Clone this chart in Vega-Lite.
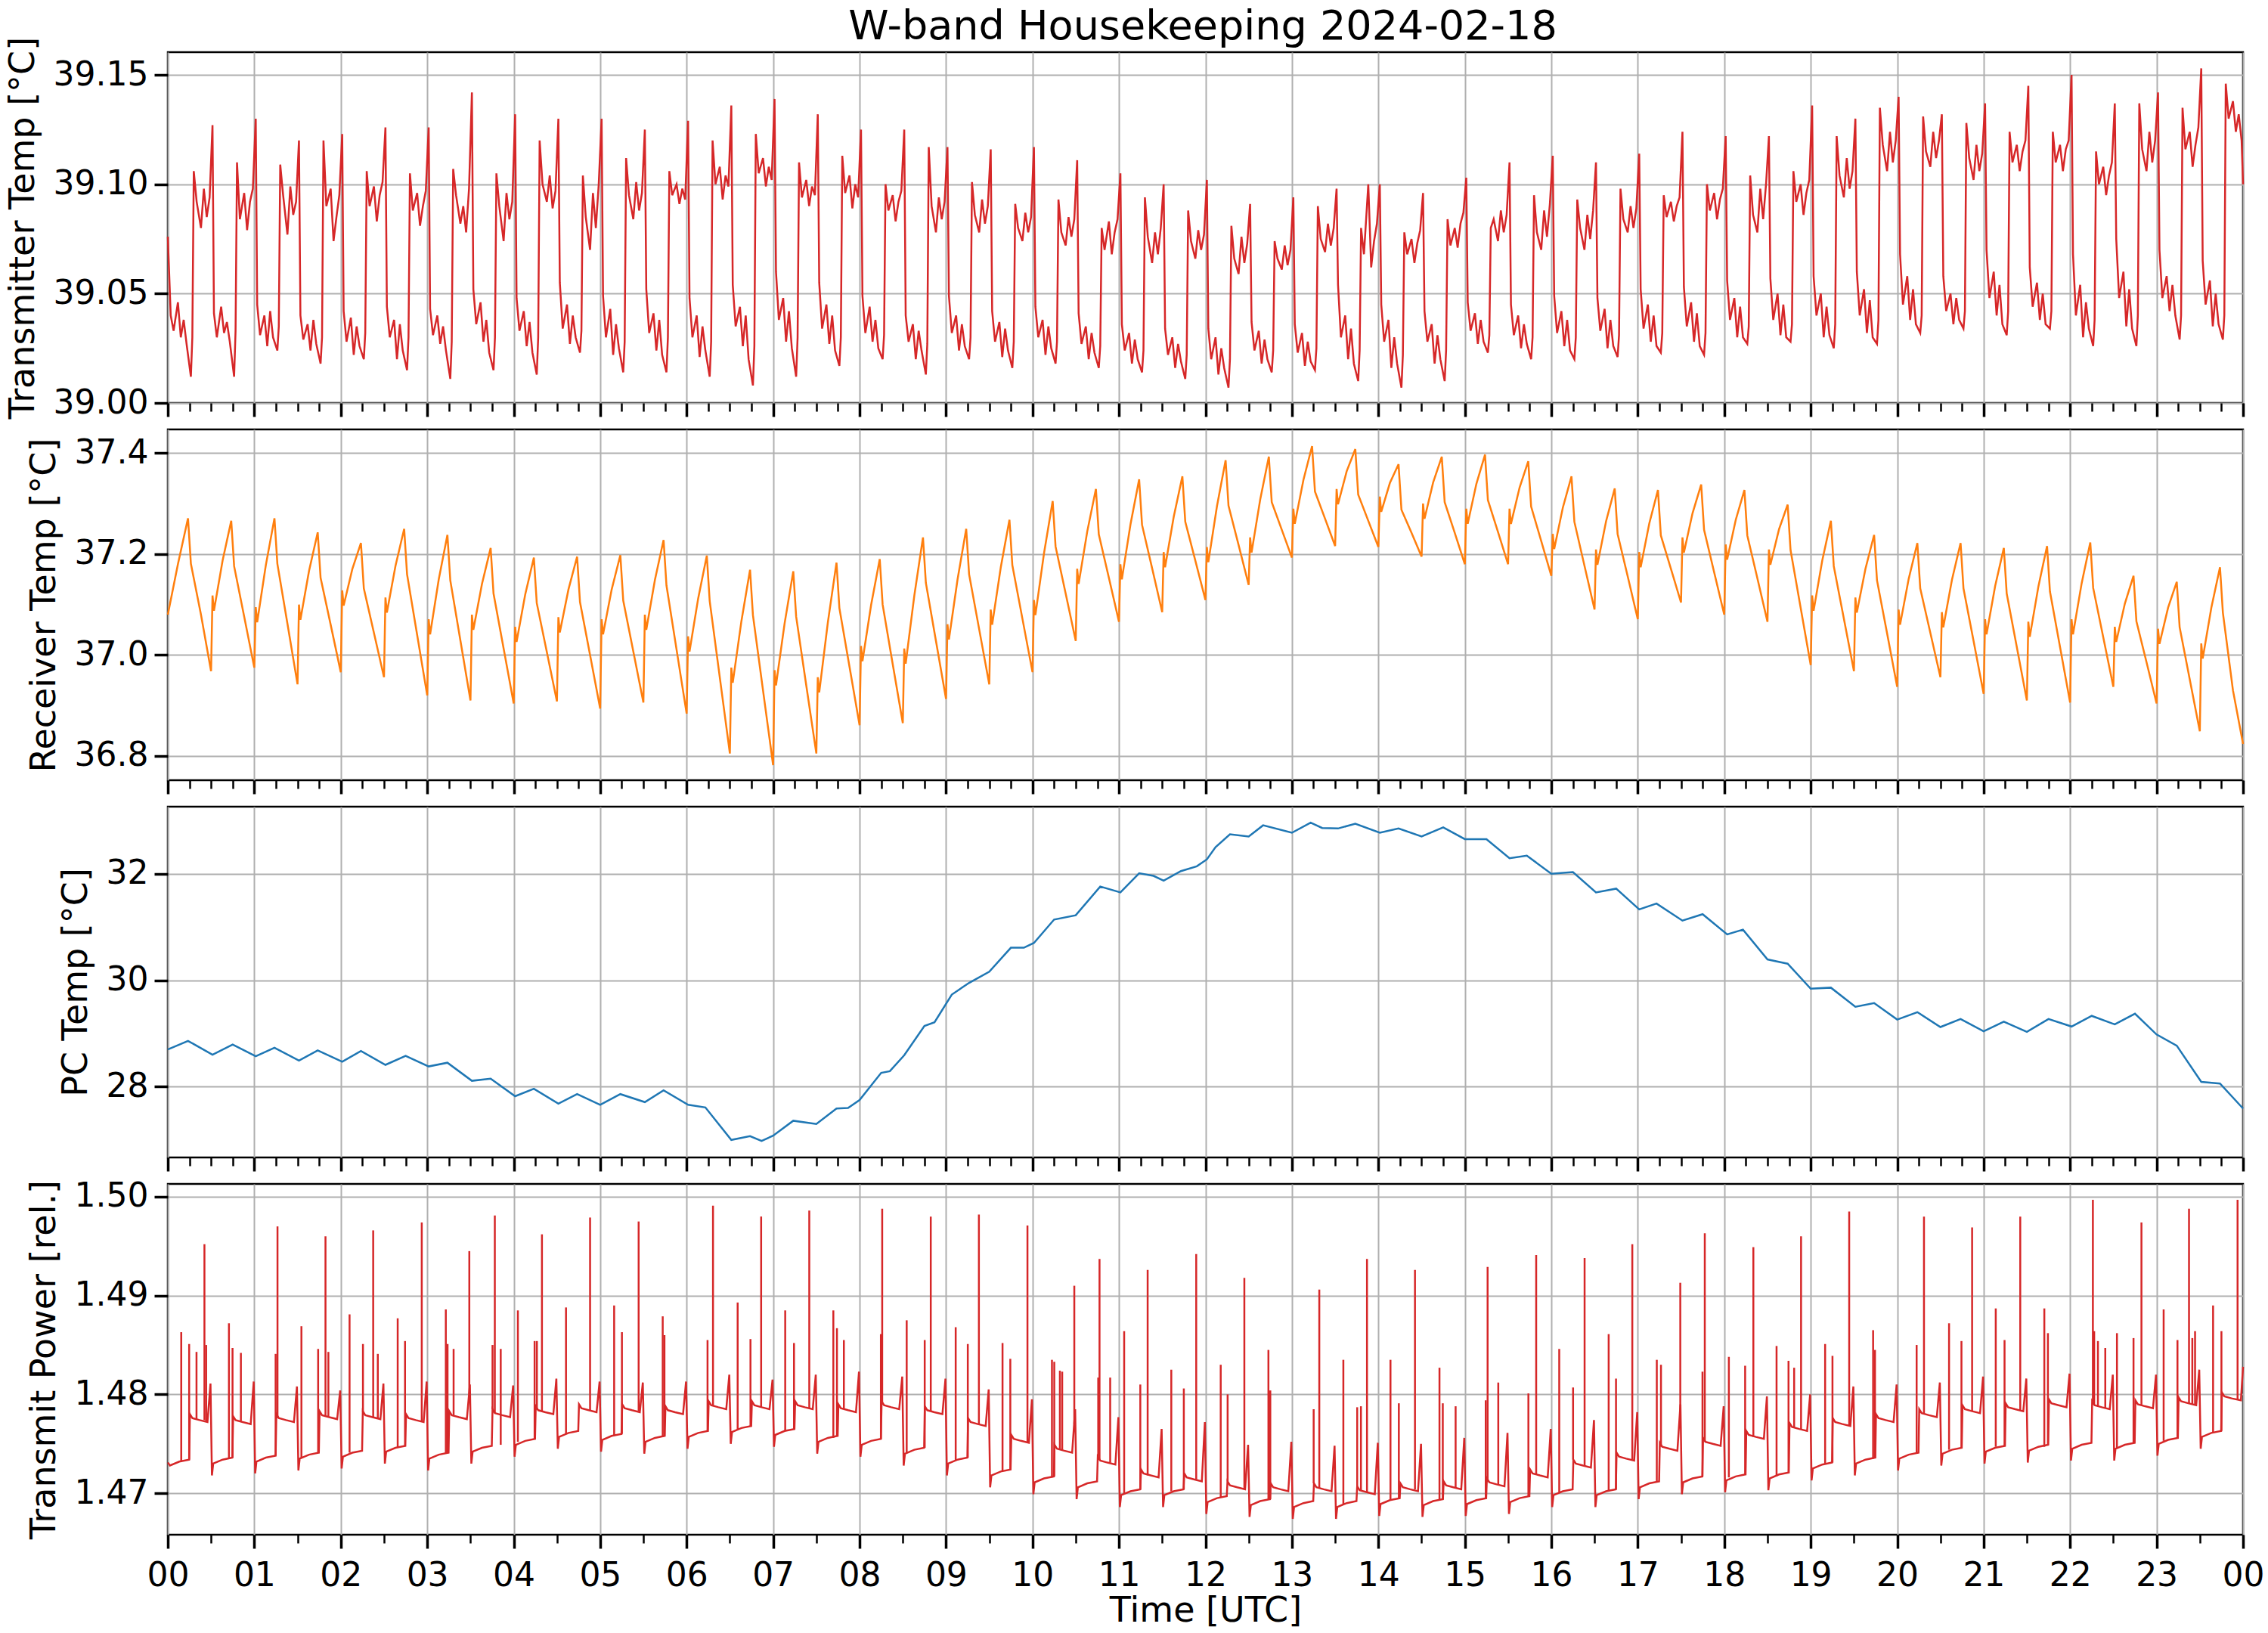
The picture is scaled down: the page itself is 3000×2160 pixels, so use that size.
{
  "$schema": "https://vega.github.io/schema/vega-lite/v6.json",
  "background": "white",
  "padding": {"left": 5, "top": 9, "right": 22, "bottom": 2},
  "title": {"text": "W-band Housekeeping 2024-02-18", "fontSize": 54, "font": "DejaVu Sans", "fontWeight": "normal", "color": "black", "anchor": "middle", "offset": -16, "dx": 90},
  "spacing": 35,
  "bounds": "flush",
  "config": {
    "font": "DejaVu Sans",
    "view": {"stroke": "black", "strokeWidth": 2.5},
    "axis": {"labelFont": "DejaVu Sans", "titleFont": "DejaVu Sans", "labelFontSize": 44, "titleFontSize": 46, "titleFontWeight": "normal", "labelColor": "black", "titleColor": "black", "gridColor": "#b0b0b0", "gridWidth": 2, "tickColor": "black", "domain": false, "labelPadding": 8},
    "axisY": {"tickSize": 18, "tickWidth": 3.5, "titlePadding": 16}
  },
  "datasets": {
    "tx": [
      {"t":0,"v":39.076},
      {"t":2,"v":39.040},{"t":4,"v":39.033},{"t":7,"v":39.046},{"t":9,"v":39.030},{"t":11,"v":39.038},{"t":13,"v":39.027},{"t":16,"v":39.012},{"t":17,"v":39.030},{"t":18,"v":39.106},{"t":20,"v":39.092},{"t":23,"v":39.080},{"t":25,"v":39.098},{"t":27,"v":39.085},{"t":29,"v":39.094},{"t":31,"v":39.127},
      {"t":32,"v":39.041},{"t":34,"v":39.030},{"t":37,"v":39.044},{"t":39,"v":39.032},{"t":41,"v":39.037},{"t":43,"v":39.028},{"t":46,"v":39.012},{"t":47,"v":39.033},{"t":48,"v":39.110},{"t":50,"v":39.084},{"t":53,"v":39.096},{"t":55,"v":39.079},{"t":57,"v":39.092},{"t":59,"v":39.098},{"t":61,"v":39.130},
      {"t":62,"v":39.045},{"t":64,"v":39.031},{"t":67,"v":39.040},{"t":69,"v":39.026},{"t":71,"v":39.042},{"t":73,"v":39.030},{"t":76,"v":39.024},{"t":77,"v":39.035},{"t":78,"v":39.109},{"t":80,"v":39.095},{"t":83,"v":39.077},{"t":85,"v":39.099},{"t":87,"v":39.086},{"t":89,"v":39.092},{"t":91,"v":39.120},
      {"t":92,"v":39.040},{"t":94,"v":39.029},{"t":97,"v":39.036},{"t":99,"v":39.024},{"t":101,"v":39.038},{"t":103,"v":39.027},{"t":106,"v":39.018},{"t":107,"v":39.030},{"t":108,"v":39.120},{"t":110,"v":39.090},{"t":113,"v":39.098},{"t":115,"v":39.074},{"t":117,"v":39.085},{"t":119,"v":39.095},{"t":121,"v":39.123},
      {"t":122,"v":39.042},{"t":124,"v":39.028},{"t":127,"v":39.039},{"t":129,"v":39.022},{"t":131,"v":39.035},{"t":133,"v":39.026},{"t":136,"v":39.020},{"t":137,"v":39.032},{"t":138,"v":39.106},{"t":140,"v":39.090},{"t":143,"v":39.099},{"t":145,"v":39.083},{"t":147,"v":39.095},{"t":149,"v":39.101},{"t":151,"v":39.126},
      {"t":152,"v":39.044},{"t":154,"v":39.030},{"t":157,"v":39.038},{"t":159,"v":39.020},{"t":161,"v":39.036},{"t":163,"v":39.024},{"t":166,"v":39.015},{"t":167,"v":39.030},{"t":168,"v":39.105},{"t":170,"v":39.088},{"t":173,"v":39.096},{"t":175,"v":39.081},{"t":177,"v":39.090},{"t":179,"v":39.097},{"t":181,"v":39.126},
      {"t":182,"v":39.043},{"t":184,"v":39.031},{"t":187,"v":39.040},{"t":189,"v":39.027},{"t":191,"v":39.035},{"t":193,"v":39.024},{"t":196,"v":39.011},{"t":197,"v":39.028},{"t":198,"v":39.107},{"t":200,"v":39.095},{"t":203,"v":39.082},{"t":205,"v":39.090},{"t":207,"v":39.078},{"t":209,"v":39.098},{"t":211,"v":39.142},
      {"t":212,"v":39.052},{"t":214,"v":39.036},{"t":217,"v":39.046},{"t":219,"v":39.028},{"t":221,"v":39.038},{"t":223,"v":39.023},{"t":226,"v":39.015},{"t":227,"v":39.030},{"t":228,"v":39.105},{"t":230,"v":39.090},{"t":233,"v":39.074},{"t":235,"v":39.096},{"t":237,"v":39.084},{"t":239,"v":39.092},{"t":241,"v":39.132},
      {"t":242,"v":39.048},{"t":244,"v":39.033},{"t":247,"v":39.042},{"t":249,"v":39.026},{"t":251,"v":39.037},{"t":253,"v":39.023},{"t":256,"v":39.013},{"t":257,"v":39.030},{"t":258,"v":39.120},{"t":260,"v":39.100},{"t":263,"v":39.092},{"t":265,"v":39.104},{"t":267,"v":39.089},{"t":269,"v":39.097},{"t":271,"v":39.130},
      {"t":272,"v":39.055},{"t":274,"v":39.034},{"t":277,"v":39.045},{"t":279,"v":39.027},{"t":281,"v":39.040},{"t":283,"v":39.030},{"t":286,"v":39.023},{"t":287,"v":39.033},{"t":288,"v":39.104},{"t":290,"v":39.085},{"t":293,"v":39.070},{"t":295,"v":39.096},{"t":297,"v":39.080},{"t":299,"v":39.100},{"t":301,"v":39.130},
      {"t":302,"v":39.049},{"t":304,"v":39.030},{"t":307,"v":39.043},{"t":309,"v":39.022},{"t":311,"v":39.036},{"t":313,"v":39.025},{"t":316,"v":39.014},{"t":317,"v":39.028},{"t":318,"v":39.112},{"t":320,"v":39.095},{"t":323,"v":39.084},{"t":325,"v":39.101},{"t":327,"v":39.088},{"t":329,"v":39.096},{"t":331,"v":39.125},
      {"t":332,"v":39.052},{"t":334,"v":39.032},{"t":337,"v":39.041},{"t":339,"v":39.024},{"t":341,"v":39.038},{"t":343,"v":39.022},{"t":346,"v":39.014},{"t":347,"v":39.030},{"t":348,"v":39.106},{"t":350,"v":39.095},{"t":353,"v":39.100},{"t":355,"v":39.091},{"t":357,"v":39.098},{"t":359,"v":39.093},{"t":361,"v":39.129},
      {"t":362,"v":39.048},{"t":364,"v":39.030},{"t":367,"v":39.040},{"t":369,"v":39.021},{"t":371,"v":39.035},{"t":373,"v":39.024},{"t":376,"v":39.012},{"t":377,"v":39.028},{"t":378,"v":39.120},{"t":380,"v":39.100},{"t":383,"v":39.108},{"t":385,"v":39.093},{"t":387,"v":39.104},{"t":389,"v":39.099},{"t":391,"v":39.136},
      {"t":392,"v":39.054},{"t":394,"v":39.035},{"t":397,"v":39.044},{"t":399,"v":39.026},{"t":401,"v":39.040},{"t":403,"v":39.020},{"t":406,"v":39.008},{"t":407,"v":39.026},{"t":408,"v":39.123},{"t":410,"v":39.105},{"t":413,"v":39.112},{"t":415,"v":39.099},{"t":417,"v":39.108},{"t":419,"v":39.102},{"t":421,"v":39.139},
      {"t":422,"v":39.060},{"t":424,"v":39.038},{"t":427,"v":39.048},{"t":429,"v":39.028},{"t":431,"v":39.042},{"t":433,"v":39.025},{"t":436,"v":39.012},{"t":437,"v":39.030},{"t":438,"v":39.110},{"t":440,"v":39.094},{"t":443,"v":39.102},{"t":445,"v":39.090},{"t":447,"v":39.099},{"t":449,"v":39.095},{"t":451,"v":39.132},
      {"t":452,"v":39.055},{"t":454,"v":39.034},{"t":457,"v":39.045},{"t":459,"v":39.027},{"t":461,"v":39.040},{"t":463,"v":39.024},{"t":466,"v":39.017},{"t":467,"v":39.030},{"t":468,"v":39.113},{"t":470,"v":39.096},{"t":473,"v":39.104},{"t":475,"v":39.089},{"t":477,"v":39.100},{"t":479,"v":39.094},{"t":481,"v":39.125},
      {"t":482,"v":39.049},{"t":484,"v":39.032},{"t":487,"v":39.044},{"t":489,"v":39.028},{"t":491,"v":39.038},{"t":493,"v":39.025},{"t":496,"v":39.020},{"t":497,"v":39.031},{"t":498,"v":39.100},{"t":500,"v":39.088},{"t":503,"v":39.095},{"t":505,"v":39.083},{"t":507,"v":39.092},{"t":509,"v":39.097},{"t":511,"v":39.125},
      {"t":512,"v":39.040},{"t":514,"v":39.028},{"t":517,"v":39.036},{"t":519,"v":39.020},{"t":521,"v":39.033},{"t":523,"v":39.024},{"t":526,"v":39.013},{"t":527,"v":39.027},{"t":528,"v":39.117},{"t":530,"v":39.090},{"t":533,"v":39.078},{"t":535,"v":39.094},{"t":537,"v":39.084},{"t":539,"v":39.092},{"t":541,"v":39.117},
      {"t":542,"v":39.049},{"t":544,"v":39.032},{"t":547,"v":39.040},{"t":549,"v":39.024},{"t":551,"v":39.036},{"t":553,"v":39.026},{"t":556,"v":39.020},{"t":557,"v":39.030},{"t":558,"v":39.101},{"t":560,"v":39.086},{"t":563,"v":39.078},{"t":565,"v":39.093},{"t":567,"v":39.082},{"t":569,"v":39.090},{"t":571,"v":39.116},
      {"t":572,"v":39.042},{"t":574,"v":39.028},{"t":577,"v":39.037},{"t":579,"v":39.021},{"t":581,"v":39.034},{"t":583,"v":39.024},{"t":586,"v":39.016},{"t":587,"v":39.028},{"t":588,"v":39.091},{"t":590,"v":39.080},{"t":593,"v":39.074},{"t":595,"v":39.087},{"t":597,"v":39.078},{"t":599,"v":39.085},{"t":601,"v":39.117},
      {"t":602,"v":39.044},{"t":604,"v":39.030},{"t":607,"v":39.038},{"t":609,"v":39.022},{"t":611,"v":39.035},{"t":613,"v":39.025},{"t":616,"v":39.018},{"t":617,"v":39.028},{"t":618,"v":39.093},{"t":620,"v":39.078},{"t":623,"v":39.072},{"t":625,"v":39.085},{"t":627,"v":39.076},{"t":629,"v":39.084},{"t":631,"v":39.111},
      {"t":632,"v":39.041},{"t":634,"v":39.027},{"t":637,"v":39.035},{"t":639,"v":39.020},{"t":641,"v":39.032},{"t":643,"v":39.023},{"t":646,"v":39.016},{"t":647,"v":39.026},{"t":648,"v":39.080},{"t":650,"v":39.070},{"t":653,"v":39.083},{"t":655,"v":39.068},{"t":657,"v":39.078},{"t":659,"v":39.084},{"t":661,"v":39.105},
      {"t":662,"v":39.036},{"t":664,"v":39.024},{"t":667,"v":39.032},{"t":669,"v":39.018},{"t":671,"v":39.029},{"t":673,"v":39.020},{"t":676,"v":39.014},{"t":677,"v":39.024},{"t":678,"v":39.094},{"t":680,"v":39.076},{"t":683,"v":39.064},{"t":685,"v":39.078},{"t":687,"v":39.068},{"t":689,"v":39.080},{"t":691,"v":39.100},
      {"t":692,"v":39.034},{"t":694,"v":39.022},{"t":697,"v":39.030},{"t":699,"v":39.016},{"t":701,"v":39.027},{"t":703,"v":39.019},{"t":706,"v":39.011},{"t":707,"v":39.022},{"t":708,"v":39.088},{"t":710,"v":39.074},{"t":713,"v":39.066},{"t":715,"v":39.079},{"t":717,"v":39.070},{"t":719,"v":39.077},{"t":721,"v":39.102},
      {"t":722,"v":39.034},{"t":724,"v":39.020},{"t":727,"v":39.030},{"t":729,"v":39.013},{"t":731,"v":39.025},{"t":733,"v":39.016},{"t":736,"v":39.007},{"t":737,"v":39.020},{"t":738,"v":39.081},{"t":740,"v":39.066},{"t":743,"v":39.059},{"t":745,"v":39.076},{"t":747,"v":39.064},{"t":749,"v":39.073},{"t":751,"v":39.091},
      {"t":752,"v":39.037},{"t":754,"v":39.024},{"t":757,"v":39.033},{"t":759,"v":39.018},{"t":761,"v":39.029},{"t":763,"v":39.020},{"t":766,"v":39.014},{"t":767,"v":39.024},{"t":768,"v":39.074},{"t":770,"v":39.066},{"t":773,"v":39.061},{"t":775,"v":39.072},{"t":777,"v":39.063},{"t":779,"v":39.070},{"t":781,"v":39.094},
      {"t":782,"v":39.036},{"t":784,"v":39.023},{"t":787,"v":39.032},{"t":789,"v":39.017},{"t":791,"v":39.028},{"t":793,"v":39.019},{"t":796,"v":39.015},{"t":797,"v":39.025},{"t":798,"v":39.090},{"t":800,"v":39.075},{"t":803,"v":39.069},{"t":805,"v":39.082},{"t":807,"v":39.072},{"t":809,"v":39.080},{"t":811,"v":39.098},
      {"t":812,"v":39.054},{"t":814,"v":39.030},{"t":817,"v":39.040},{"t":819,"v":39.020},{"t":821,"v":39.034},{"t":823,"v":39.018},{"t":826,"v":39.010},{"t":827,"v":39.024},{"t":828,"v":39.080},{"t":830,"v":39.068},{"t":833,"v":39.100},{"t":835,"v":39.062},{"t":837,"v":39.074},{"t":839,"v":39.082},{"t":841,"v":39.100},
      {"t":842,"v":39.045},{"t":844,"v":39.028},{"t":847,"v":39.038},{"t":849,"v":39.016},{"t":851,"v":39.030},{"t":853,"v":39.018},{"t":856,"v":39.007},{"t":857,"v":39.022},{"t":858,"v":39.078},{"t":860,"v":39.068},{"t":863,"v":39.075},{"t":865,"v":39.064},{"t":867,"v":39.073},{"t":869,"v":39.079},{"t":871,"v":39.096},
      {"t":872,"v":39.042},{"t":874,"v":39.028},{"t":877,"v":39.036},{"t":879,"v":39.018},{"t":881,"v":39.031},{"t":883,"v":39.020},{"t":886,"v":39.010},{"t":887,"v":39.024},{"t":888,"v":39.084},{"t":890,"v":39.072},{"t":893,"v":39.080},{"t":895,"v":39.071},{"t":897,"v":39.082},{"t":899,"v":39.087},{"t":901,"v":39.103},
      {"t":902,"v":39.046},{"t":904,"v":39.033},{"t":907,"v":39.041},{"t":909,"v":39.027},{"t":911,"v":39.038},{"t":913,"v":39.028},{"t":916,"v":39.023},{"t":917,"v":39.031},{"t":918,"v":39.080},{"t":920,"v":39.084},{"t":923,"v":39.074},{"t":925,"v":39.088},{"t":927,"v":39.078},{"t":929,"v":39.086},{"t":931,"v":39.110},
      {"t":932,"v":39.045},{"t":934,"v":39.031},{"t":937,"v":39.040},{"t":939,"v":39.025},{"t":941,"v":39.036},{"t":943,"v":39.027},{"t":946,"v":39.020},{"t":947,"v":39.030},{"t":948,"v":39.095},{"t":950,"v":39.078},{"t":953,"v":39.070},{"t":955,"v":39.088},{"t":957,"v":39.076},{"t":959,"v":39.091},{"t":961,"v":39.113},
      {"t":962,"v":39.049},{"t":964,"v":39.032},{"t":967,"v":39.042},{"t":969,"v":39.026},{"t":971,"v":39.038},{"t":973,"v":39.024},{"t":976,"v":39.020},{"t":977,"v":39.030},{"t":978,"v":39.093},{"t":980,"v":39.080},{"t":983,"v":39.070},{"t":985,"v":39.086},{"t":987,"v":39.075},{"t":989,"v":39.088},{"t":991,"v":39.110},
      {"t":992,"v":39.048},{"t":994,"v":39.033},{"t":997,"v":39.043},{"t":999,"v":39.025},{"t":1001,"v":39.038},{"t":1003,"v":39.026},{"t":1006,"v":39.021},{"t":1007,"v":39.031},{"t":1008,"v":39.098},{"t":1010,"v":39.084},{"t":1013,"v":39.078},{"t":1015,"v":39.090},{"t":1017,"v":39.080},{"t":1019,"v":39.089},{"t":1021,"v":39.114},
      {"t":1022,"v":39.052},{"t":1024,"v":39.034},{"t":1027,"v":39.045},{"t":1029,"v":39.028},{"t":1031,"v":39.040},{"t":1033,"v":39.026},{"t":1036,"v":39.023},{"t":1037,"v":39.032},{"t":1038,"v":39.095},{"t":1040,"v":39.085},{"t":1043,"v":39.092},{"t":1045,"v":39.083},{"t":1047,"v":39.090},{"t":1049,"v":39.094},{"t":1051,"v":39.124},
      {"t":1052,"v":39.053},{"t":1054,"v":39.035},{"t":1057,"v":39.046},{"t":1059,"v":39.028},{"t":1061,"v":39.041},{"t":1063,"v":39.026},{"t":1066,"v":39.022},{"t":1067,"v":39.032},{"t":1068,"v":39.100},{"t":1070,"v":39.088},{"t":1073,"v":39.096},{"t":1075,"v":39.084},{"t":1077,"v":39.093},{"t":1079,"v":39.098},{"t":1081,"v":39.122},
      {"t":1082,"v":39.056},{"t":1084,"v":39.038},{"t":1087,"v":39.048},{"t":1089,"v":39.030},{"t":1091,"v":39.044},{"t":1093,"v":39.030},{"t":1096,"v":39.027},{"t":1097,"v":39.035},{"t":1098,"v":39.104},{"t":1100,"v":39.086},{"t":1103,"v":39.078},{"t":1105,"v":39.098},{"t":1107,"v":39.084},{"t":1109,"v":39.100},{"t":1111,"v":39.122},
      {"t":1112,"v":39.057},{"t":1114,"v":39.038},{"t":1117,"v":39.050},{"t":1119,"v":39.031},{"t":1121,"v":39.045},{"t":1123,"v":39.030},{"t":1126,"v":39.028},{"t":1127,"v":39.036},{"t":1128,"v":39.106},{"t":1130,"v":39.092},{"t":1133,"v":39.100},{"t":1135,"v":39.086},{"t":1137,"v":39.096},{"t":1139,"v":39.102},{"t":1141,"v":39.136},
      {"t":1142,"v":39.058},{"t":1144,"v":39.040},{"t":1147,"v":39.050},{"t":1149,"v":39.030},{"t":1151,"v":39.044},{"t":1153,"v":39.031},{"t":1156,"v":39.025},{"t":1157,"v":39.036},{"t":1158,"v":39.122},{"t":1160,"v":39.104},{"t":1163,"v":39.094},{"t":1165,"v":39.112},{"t":1167,"v":39.098},{"t":1169,"v":39.106},{"t":1171,"v":39.130},
      {"t":1172,"v":39.060},{"t":1174,"v":39.040},{"t":1177,"v":39.052},{"t":1179,"v":39.032},{"t":1181,"v":39.047},{"t":1183,"v":39.030},{"t":1186,"v":39.027},{"t":1187,"v":39.038},{"t":1188,"v":39.135},{"t":1190,"v":39.118},{"t":1193,"v":39.106},{"t":1195,"v":39.124},{"t":1197,"v":39.110},{"t":1199,"v":39.120},{"t":1201,"v":39.140},
      {"t":1202,"v":39.068},{"t":1204,"v":39.045},{"t":1207,"v":39.058},{"t":1209,"v":39.038},{"t":1211,"v":39.052},{"t":1213,"v":39.036},{"t":1216,"v":39.032},{"t":1217,"v":39.040},{"t":1218,"v":39.131},{"t":1220,"v":39.115},{"t":1223,"v":39.108},{"t":1225,"v":39.124},{"t":1227,"v":39.112},{"t":1229,"v":39.120},{"t":1231,"v":39.132},
      {"t":1232,"v":39.058},{"t":1234,"v":39.042},{"t":1237,"v":39.050},{"t":1239,"v":39.036},{"t":1241,"v":39.048},{"t":1243,"v":39.038},{"t":1246,"v":39.034},{"t":1247,"v":39.042},{"t":1248,"v":39.128},{"t":1250,"v":39.112},{"t":1253,"v":39.102},{"t":1255,"v":39.118},{"t":1257,"v":39.106},{"t":1259,"v":39.114},{"t":1261,"v":39.137},
      {"t":1262,"v":39.070},{"t":1264,"v":39.048},{"t":1267,"v":39.060},{"t":1269,"v":39.040},{"t":1271,"v":39.054},{"t":1273,"v":39.036},{"t":1276,"v":39.031},{"t":1277,"v":39.042},{"t":1278,"v":39.124},{"t":1280,"v":39.110},{"t":1283,"v":39.118},{"t":1285,"v":39.106},{"t":1287,"v":39.115},{"t":1289,"v":39.120},{"t":1291,"v":39.145},
      {"t":1292,"v":39.062},{"t":1294,"v":39.044},{"t":1297,"v":39.055},{"t":1299,"v":39.038},{"t":1301,"v":39.050},{"t":1303,"v":39.036},{"t":1306,"v":39.034},{"t":1307,"v":39.042},{"t":1308,"v":39.124},{"t":1310,"v":39.110},{"t":1313,"v":39.118},{"t":1315,"v":39.106},{"t":1317,"v":39.116},{"t":1319,"v":39.120},{"t":1321,"v":39.150},
      {"t":1322,"v":39.068},{"t":1324,"v":39.040},{"t":1327,"v":39.054},{"t":1329,"v":39.030},{"t":1331,"v":39.046},{"t":1333,"v":39.034},{"t":1336,"v":39.026},{"t":1337,"v":39.038},{"t":1338,"v":39.115},{"t":1340,"v":39.100},{"t":1343,"v":39.108},{"t":1345,"v":39.095},{"t":1347,"v":39.104},{"t":1349,"v":39.110},{"t":1351,"v":39.137},
      {"t":1352,"v":39.075},{"t":1354,"v":39.048},{"t":1357,"v":39.060},{"t":1359,"v":39.035},{"t":1361,"v":39.052},{"t":1363,"v":39.034},{"t":1366,"v":39.026},{"t":1367,"v":39.040},{"t":1368,"v":39.137},{"t":1370,"v":39.116},{"t":1373,"v":39.106},{"t":1375,"v":39.124},{"t":1377,"v":39.110},{"t":1379,"v":39.120},{"t":1381,"v":39.142},
      {"t":1382,"v":39.070},{"t":1384,"v":39.048},{"t":1387,"v":39.058},{"t":1389,"v":39.042},{"t":1391,"v":39.054},{"t":1393,"v":39.040},{"t":1396,"v":39.029},{"t":1397,"v":39.040},{"t":1398,"v":39.135},{"t":1400,"v":39.116},{"t":1403,"v":39.124},{"t":1405,"v":39.108},{"t":1407,"v":39.118},{"t":1409,"v":39.126},{"t":1411,"v":39.153},
      {"t":1412,"v":39.065},{"t":1414,"v":39.045},{"t":1417,"v":39.056},{"t":1419,"v":39.035},{"t":1421,"v":39.050},{"t":1423,"v":39.036},{"t":1426,"v":39.029},{"t":1427,"v":39.040},{"t":1428,"v":39.146},{"t":1430,"v":39.130},{"t":1433,"v":39.138},{"t":1435,"v":39.124},{"t":1437,"v":39.132},{"t":1439,"v":39.120},{"t":1440,"v":39.100}
    ],
    "rx": [
      {"t":0,"v":37.080},{"t":7,"v":37.180},{"t":14,"v":37.271},{"t":16,"v":37.181},{"t":23,"v":37.080},
      {"t":30,"v":36.968},{"t":31,"v":37.118},{"t":32,"v":37.088},{"t":38,"v":37.187},{"t":44,"v":37.266},{"t":46,"v":37.176},{"t":53,"v":37.076},
      {"t":60,"v":36.975},{"t":61,"v":37.095},{"t":62,"v":37.065},{"t":68,"v":37.178},{"t":74,"v":37.271},{"t":76,"v":37.181},{"t":83,"v":37.062},
      {"t":90,"v":36.942},{"t":91,"v":37.100},{"t":92,"v":37.070},{"t":98,"v":37.167},{"t":104,"v":37.243},{"t":106,"v":37.153},{"t":113,"v":37.060},
      {"t":120,"v":36.966},{"t":121,"v":37.128},{"t":122,"v":37.098},{"t":128,"v":37.170},{"t":134,"v":37.222},{"t":136,"v":37.132},{"t":143,"v":37.044},
      {"t":150,"v":36.956},{"t":151,"v":37.114},{"t":152,"v":37.084},{"t":158,"v":37.177},{"t":164,"v":37.250},{"t":166,"v":37.160},{"t":173,"v":37.040},
      {"t":180,"v":36.920},{"t":181,"v":37.071},{"t":182,"v":37.041},{"t":188,"v":37.150},{"t":194,"v":37.238},{"t":196,"v":37.148},{"t":203,"v":37.029},
      {"t":210,"v":36.910},{"t":211,"v":37.080},{"t":212,"v":37.050},{"t":218,"v":37.141},{"t":224,"v":37.212},{"t":226,"v":37.122},{"t":233,"v":37.013},
      {"t":240,"v":36.904},{"t":241,"v":37.056},{"t":242,"v":37.026},{"t":248,"v":37.120},{"t":254,"v":37.193},{"t":256,"v":37.103},{"t":263,"v":37.006},
      {"t":270,"v":36.908},{"t":271,"v":37.075},{"t":272,"v":37.045},{"t":278,"v":37.130},{"t":284,"v":37.195},{"t":286,"v":37.105},{"t":293,"v":37.000},
      {"t":300,"v":36.894},{"t":301,"v":37.071},{"t":302,"v":37.041},{"t":308,"v":37.130},{"t":314,"v":37.198},{"t":316,"v":37.108},{"t":323,"v":37.007},
      {"t":330,"v":36.906},{"t":331,"v":37.080},{"t":332,"v":37.050},{"t":338,"v":37.149},{"t":344,"v":37.228},{"t":346,"v":37.138},{"t":353,"v":37.011},
      {"t":360,"v":36.884},{"t":361,"v":37.037},{"t":362,"v":37.007},{"t":368,"v":37.112},{"t":374,"v":37.197},{"t":376,"v":37.107},{"t":383,"v":36.956},
      {"t":390,"v":36.805},{"t":391,"v":36.975},{"t":392,"v":36.945},{"t":398,"v":37.067},{"t":404,"v":37.169},{"t":406,"v":37.079},{"t":413,"v":36.930},
      {"t":420,"v":36.782},{"t":421,"v":36.970},{"t":422,"v":36.940},{"t":428,"v":37.063},{"t":434,"v":37.166},{"t":436,"v":37.076},{"t":443,"v":36.940},
      {"t":450,"v":36.805},{"t":451,"v":36.956},{"t":452,"v":36.926},{"t":458,"v":37.065},{"t":464,"v":37.183},{"t":466,"v":37.093},{"t":473,"v":36.977},
      {"t":480,"v":36.861},{"t":481,"v":37.018},{"t":482,"v":36.988},{"t":488,"v":37.099},{"t":494,"v":37.190},{"t":496,"v":37.100},{"t":503,"v":36.982},
      {"t":510,"v":36.865},{"t":511,"v":37.013},{"t":512,"v":36.983},{"t":518,"v":37.118},{"t":524,"v":37.233},{"t":526,"v":37.143},{"t":533,"v":37.028},
      {"t":540,"v":36.913},{"t":541,"v":37.061},{"t":542,"v":37.031},{"t":548,"v":37.150},{"t":554,"v":37.250},{"t":556,"v":37.160},{"t":563,"v":37.051},
      {"t":570,"v":36.942},{"t":571,"v":37.090},{"t":572,"v":37.060},{"t":578,"v":37.174},{"t":584,"v":37.268},{"t":586,"v":37.178},{"t":593,"v":37.072},
      {"t":600,"v":36.966},{"t":601,"v":37.109},{"t":602,"v":37.079},{"t":608,"v":37.202},{"t":614,"v":37.305},{"t":616,"v":37.215},{"t":623,"v":37.122},
      {"t":630,"v":37.028},{"t":631,"v":37.171},{"t":632,"v":37.141},{"t":638,"v":37.245},{"t":644,"v":37.329},{"t":646,"v":37.239},{"t":653,"v":37.153},
      {"t":660,"v":37.066},{"t":661,"v":37.180},{"t":662,"v":37.150},{"t":668,"v":37.259},{"t":674,"v":37.348},{"t":676,"v":37.258},{"t":683,"v":37.172},
      {"t":690,"v":37.085},{"t":691,"v":37.204},{"t":692,"v":37.174},{"t":698,"v":37.274},{"t":704,"v":37.354},{"t":706,"v":37.264},{"t":713,"v":37.187},
      {"t":720,"v":37.109},{"t":721,"v":37.214},{"t":722,"v":37.184},{"t":728,"v":37.295},{"t":734,"v":37.386},{"t":736,"v":37.296},{"t":743,"v":37.218},
      {"t":750,"v":37.139},{"t":751,"v":37.233},{"t":752,"v":37.203},{"t":758,"v":37.308},{"t":764,"v":37.393},{"t":766,"v":37.303},{"t":773,"v":37.248},
      {"t":780,"v":37.193},{"t":781,"v":37.290},{"t":782,"v":37.260},{"t":788,"v":37.347},{"t":794,"v":37.414},{"t":796,"v":37.324},{"t":803,"v":37.270},
      {"t":810,"v":37.216},{"t":811,"v":37.329},{"t":812,"v":37.299},{"t":818,"v":37.364},{"t":824,"v":37.408},{"t":826,"v":37.318},{"t":833,"v":37.266},
      {"t":840,"v":37.214},{"t":841,"v":37.314},{"t":842,"v":37.284},{"t":848,"v":37.341},{"t":854,"v":37.378},{"t":856,"v":37.288},{"t":863,"v":37.242},
      {"t":870,"v":37.195},{"t":871,"v":37.300},{"t":872,"v":37.270},{"t":878,"v":37.342},{"t":884,"v":37.393},{"t":886,"v":37.303},{"t":893,"v":37.242},
      {"t":900,"v":37.180},{"t":901,"v":37.290},{"t":902,"v":37.260},{"t":908,"v":37.339},{"t":914,"v":37.397},{"t":916,"v":37.307},{"t":923,"v":37.244},
      {"t":930,"v":37.180},{"t":931,"v":37.290},{"t":932,"v":37.260},{"t":938,"v":37.332},{"t":944,"v":37.384},{"t":946,"v":37.294},{"t":953,"v":37.226},
      {"t":960,"v":37.157},{"t":961,"v":37.240},{"t":962,"v":37.210},{"t":968,"v":37.292},{"t":974,"v":37.354},{"t":976,"v":37.264},{"t":983,"v":37.177},
      {"t":990,"v":37.090},{"t":991,"v":37.209},{"t":992,"v":37.179},{"t":998,"v":37.265},{"t":1004,"v":37.330},{"t":1006,"v":37.240},{"t":1013,"v":37.156},
      {"t":1020,"v":37.071},{"t":1021,"v":37.204},{"t":1022,"v":37.174},{"t":1028,"v":37.261},{"t":1034,"v":37.327},{"t":1036,"v":37.237},{"t":1043,"v":37.171},
      {"t":1050,"v":37.104},{"t":1051,"v":37.233},{"t":1052,"v":37.203},{"t":1058,"v":37.281},{"t":1064,"v":37.338},{"t":1066,"v":37.248},{"t":1073,"v":37.164},
      {"t":1080,"v":37.080},{"t":1081,"v":37.219},{"t":1082,"v":37.189},{"t":1088,"v":37.268},{"t":1094,"v":37.327},{"t":1096,"v":37.237},{"t":1103,"v":37.152},
      {"t":1110,"v":37.066},{"t":1111,"v":37.209},{"t":1112,"v":37.179},{"t":1118,"v":37.249},{"t":1124,"v":37.298},{"t":1126,"v":37.208},{"t":1133,"v":37.094},
      {"t":1140,"v":36.980},{"t":1141,"v":37.118},{"t":1142,"v":37.088},{"t":1148,"v":37.187},{"t":1154,"v":37.266},{"t":1156,"v":37.176},{"t":1163,"v":37.072},
      {"t":1170,"v":36.968},{"t":1171,"v":37.114},{"t":1172,"v":37.084},{"t":1178,"v":37.171},{"t":1184,"v":37.238},{"t":1186,"v":37.148},{"t":1193,"v":37.043},
      {"t":1200,"v":36.937},{"t":1201,"v":37.090},{"t":1202,"v":37.060},{"t":1208,"v":37.151},{"t":1214,"v":37.222},{"t":1216,"v":37.132},{"t":1223,"v":37.044},
      {"t":1230,"v":36.956},{"t":1231,"v":37.085},{"t":1232,"v":37.055},{"t":1238,"v":37.149},{"t":1244,"v":37.222},{"t":1246,"v":37.132},{"t":1253,"v":37.028},
      {"t":1260,"v":36.923},{"t":1261,"v":37.071},{"t":1262,"v":37.041},{"t":1268,"v":37.137},{"t":1274,"v":37.212},{"t":1276,"v":37.122},{"t":1283,"v":37.016},
      {"t":1290,"v":36.910},{"t":1291,"v":37.066},{"t":1292,"v":37.036},{"t":1298,"v":37.136},{"t":1304,"v":37.216},{"t":1306,"v":37.126},{"t":1313,"v":37.016},
      {"t":1320,"v":36.906},{"t":1321,"v":37.071},{"t":1322,"v":37.041},{"t":1328,"v":37.142},{"t":1334,"v":37.223},{"t":1336,"v":37.133},{"t":1343,"v":37.035},
      {"t":1350,"v":36.937},{"t":1351,"v":37.056},{"t":1352,"v":37.026},{"t":1358,"v":37.102},{"t":1364,"v":37.157},{"t":1366,"v":37.067},{"t":1373,"v":36.986},
      {"t":1380,"v":36.904},{"t":1381,"v":37.052},{"t":1382,"v":37.022},{"t":1388,"v":37.094},{"t":1394,"v":37.145},{"t":1396,"v":37.055},{"t":1403,"v":36.952},
      {"t":1410,"v":36.849},{"t":1411,"v":37.023},{"t":1412,"v":36.993},{"t":1418,"v":37.094},{"t":1424,"v":37.174},{"t":1426,"v":37.084},{"t":1433,"v":36.930},{"t":1440,"v":36.824}
    ],
    "pc": [
      {"t":0,"v":28.70},{"t":14,"v":28.86},{"t":31,"v":28.60},{"t":45,"v":28.79},{"t":61,"v":28.57},{"t":74,"v":28.73},{"t":91,"v":28.49},{"t":104,"v":28.68},{"t":121,"v":28.47},{"t":134,"v":28.67},{"t":151,"v":28.41},{"t":165,"v":28.58},{"t":181,"v":28.38},{"t":194,"v":28.45},{"t":211,"v":28.11},{"t":224,"v":28.15},{"t":241,"v":27.82},{"t":254,"v":27.96},{"t":271,"v":27.68},{"t":284,"v":27.86},{"t":300,"v":27.66},{"t":314,"v":27.86},{"t":331,"v":27.71},{"t":344,"v":27.93},{"t":361,"v":27.66},{"t":373,"v":27.61},{"t":391,"v":27.00},{"t":404,"v":27.07},{"t":412,"v":26.98},{"t":420,"v":27.08},{"t":434,"v":27.36},{"t":450,"v":27.30},{"t":464,"v":27.59},{"t":472,"v":27.60},{"t":480,"v":27.75},{"t":495,"v":28.26},{"t":501,"v":28.29},{"t":511,"v":28.59},{"t":525,"v":29.14},{"t":532,"v":29.21},{"t":544,"v":29.73},{"t":556,"v":29.95},{"t":570,"v":30.16},{"t":585,"v":30.61},{"t":594,"v":30.61},{"t":601,"v":30.70},{"t":615,"v":31.14},{"t":630,"v":31.22},{"t":647,"v":31.76},{"t":661,"v":31.65},{"t":674,"v":32.01},{"t":684,"v":31.96},{"t":691,"v":31.87},{"t":703,"v":32.05},{"t":714,"v":32.14},{"t":721,"v":32.27},{"t":727,"v":32.50},{"t":737,"v":32.74},{"t":750,"v":32.70},{"t":760,"v":32.91},{"t":780,"v":32.77},{"t":793,"v":32.96},{"t":801,"v":32.86},{"t":812,"v":32.85},{"t":824,"v":32.94},{"t":841,"v":32.77},{"t":854,"v":32.85},{"t":870,"v":32.70},{"t":885,"v":32.87},{"t":900,"v":32.65},{"t":915,"v":32.65},{"t":931,"v":32.29},{"t":943,"v":32.34},{"t":960,"v":32.00},{"t":975,"v":32.03},{"t":991,"v":31.65},{"t":1005,"v":31.72},{"t":1021,"v":31.33},{"t":1033,"v":31.44},{"t":1051,"v":31.12},{"t":1065,"v":31.24},{"t":1082,"v":30.86},{"t":1093,"v":30.95},{"t":1110,"v":30.39},{"t":1124,"v":30.31},{"t":1140,"v":29.84},{"t":1154,"v":29.86},{"t":1171,"v":29.50},{"t":1184,"v":29.57},{"t":1200,"v":29.26},{"t":1214,"v":29.40},{"t":1230,"v":29.12},{"t":1244,"v":29.27},{"t":1260,"v":29.04},{"t":1274,"v":29.22},{"t":1290,"v":29.03},{"t":1305,"v":29.27},{"t":1321,"v":29.13},{"t":1335,"v":29.33},{"t":1351,"v":29.17},{"t":1365,"v":29.37},{"t":1380,"v":28.98},{"t":1394,"v":28.77},{"t":1411,"v":28.09},{"t":1424,"v":28.06},{"t":1440,"v":27.59}
    ],
    "pw": [
      {"t":0,"v":1.4731},{"t":1.5,"v":1.4728},{"t":8,"v":1.4732},{"t":14.8,"v":1.4734},{"t":15.3,"v":1.4780},{"t":17,"v":1.4776},{"t":22,"v":1.4774},{"t":27.5,"v":1.4772},{"t":29.6,"v":1.4811},
      {"t":30.6,"v":1.4718},{"t":31.5,"v":1.4730},{"t":38,"v":1.4734},{"t":44.8,"v":1.4736},{"t":45.3,"v":1.4778},{"t":47,"v":1.4774},{"t":52,"v":1.4772},{"t":57.5,"v":1.4770},{"t":59.6,"v":1.4813},
      {"t":60.6,"v":1.4720},{"t":61.5,"v":1.4732},{"t":68,"v":1.4736},{"t":74.8,"v":1.4738},{"t":75.3,"v":1.4780},{"t":77,"v":1.4776},{"t":82,"v":1.4774},{"t":87.5,"v":1.4772},{"t":89.6,"v":1.4808},
      {"t":90.6,"v":1.4723},{"t":91.5,"v":1.4735},{"t":98,"v":1.4739},{"t":104.8,"v":1.4741},{"t":105.3,"v":1.4783},{"t":107,"v":1.4779},{"t":112,"v":1.4777},{"t":117.5,"v":1.4775},{"t":119.6,"v":1.4804},
      {"t":120.6,"v":1.4725},{"t":121.5,"v":1.4737},{"t":128,"v":1.4741},{"t":134.8,"v":1.4743},{"t":135.3,"v":1.4783},{"t":137,"v":1.4779},{"t":142,"v":1.4777},{"t":147.5,"v":1.4775},{"t":149.6,"v":1.4811},
      {"t":150.6,"v":1.4730},{"t":151.5,"v":1.4742},{"t":158,"v":1.4746},{"t":164.8,"v":1.4748},{"t":165.3,"v":1.4780},{"t":167,"v":1.4776},{"t":172,"v":1.4774},{"t":177.5,"v":1.4772},{"t":179.6,"v":1.4813},
      {"t":180.6,"v":1.4723},{"t":181.5,"v":1.4735},{"t":188,"v":1.4739},{"t":194.8,"v":1.4741},{"t":195.3,"v":1.4783},{"t":197,"v":1.4779},{"t":202,"v":1.4777},{"t":207.5,"v":1.4775},{"t":209.6,"v":1.4810},
      {"t":210.6,"v":1.4730},{"t":211.5,"v":1.4742},{"t":218,"v":1.4746},{"t":224.8,"v":1.4748},{"t":225.3,"v":1.4785},{"t":227,"v":1.4781},{"t":232,"v":1.4779},{"t":237.5,"v":1.4777},{"t":239.6,"v":1.4809},
      {"t":240.6,"v":1.4737},{"t":241.5,"v":1.4749},{"t":248,"v":1.4753},{"t":254.8,"v":1.4755},{"t":255.3,"v":1.4788},{"t":257,"v":1.4784},{"t":262,"v":1.4782},{"t":267.5,"v":1.4780},{"t":269.6,"v":1.4816},
      {"t":270.6,"v":1.4745},{"t":271.5,"v":1.4757},{"t":278,"v":1.4761},{"t":284.8,"v":1.4763},{"t":285.3,"v":1.4790},{"t":287,"v":1.4786},{"t":292,"v":1.4784},{"t":297.5,"v":1.4782},{"t":299.6,"v":1.4813},
      {"t":300.6,"v":1.4742},{"t":301.5,"v":1.4754},{"t":308,"v":1.4758},{"t":314.8,"v":1.4760},{"t":315.3,"v":1.4790},{"t":317,"v":1.4786},{"t":322,"v":1.4784},{"t":327.5,"v":1.4782},{"t":329.6,"v":1.4812},
      {"t":330.6,"v":1.4740},{"t":331.5,"v":1.4752},{"t":338,"v":1.4756},{"t":344.8,"v":1.4758},{"t":345.3,"v":1.4788},{"t":347,"v":1.4784},{"t":352,"v":1.4782},{"t":357.5,"v":1.4780},{"t":359.6,"v":1.4813},
      {"t":360.6,"v":1.4745},{"t":361.5,"v":1.4757},{"t":368,"v":1.4761},{"t":374.8,"v":1.4763},{"t":375.3,"v":1.4793},{"t":377,"v":1.4789},{"t":382,"v":1.4787},{"t":387.5,"v":1.4785},{"t":389.6,"v":1.4820},
      {"t":390.6,"v":1.4750},{"t":391.5,"v":1.4762},{"t":398,"v":1.4766},{"t":404.8,"v":1.4768},{"t":405.3,"v":1.4793},{"t":407,"v":1.4789},{"t":412,"v":1.4787},{"t":417.5,"v":1.4785},{"t":419.6,"v":1.4815},
      {"t":420.6,"v":1.4747},{"t":421.5,"v":1.4759},{"t":428,"v":1.4763},{"t":434.8,"v":1.4765},{"t":435.3,"v":1.4793},{"t":437,"v":1.4789},{"t":442,"v":1.4787},{"t":447.5,"v":1.4785},{"t":449.6,"v":1.4820},
      {"t":450.6,"v":1.4740},{"t":451.5,"v":1.4752},{"t":458,"v":1.4756},{"t":464.8,"v":1.4758},{"t":465.3,"v":1.4790},{"t":467,"v":1.4786},{"t":472,"v":1.4784},{"t":477.5,"v":1.4782},{"t":479.6,"v":1.4823},
      {"t":480.6,"v":1.4737},{"t":481.5,"v":1.4749},{"t":488,"v":1.4753},{"t":494.8,"v":1.4755},{"t":495.3,"v":1.4793},{"t":497,"v":1.4789},{"t":502,"v":1.4787},{"t":507.5,"v":1.4785},{"t":509.6,"v":1.4818},
      {"t":510.6,"v":1.4728},{"t":511.5,"v":1.4740},{"t":518,"v":1.4744},{"t":524.8,"v":1.4746},{"t":525.3,"v":1.4788},{"t":527,"v":1.4784},{"t":532,"v":1.4782},{"t":537.5,"v":1.4780},{"t":539.6,"v":1.4816},
      {"t":540.6,"v":1.4718},{"t":541.5,"v":1.4730},{"t":548,"v":1.4734},{"t":554.8,"v":1.4736},{"t":555.3,"v":1.4776},{"t":557,"v":1.4772},{"t":562,"v":1.4770},{"t":567.5,"v":1.4768},{"t":569.6,"v":1.4805},
      {"t":570.6,"v":1.4706},{"t":571.5,"v":1.4718},{"t":578,"v":1.4722},{"t":584.8,"v":1.4724},{"t":585.3,"v":1.4759},{"t":587,"v":1.4755},{"t":592,"v":1.4753},{"t":597.5,"v":1.4751},{"t":599.6,"v":1.4795},
      {"t":600.6,"v":1.4699},{"t":601.5,"v":1.4711},{"t":608,"v":1.4715},{"t":614.8,"v":1.4717},{"t":615.3,"v":1.4749},{"t":617,"v":1.4745},{"t":622,"v":1.4743},{"t":627.5,"v":1.4741},{"t":629.6,"v":1.4785},
      {"t":630.6,"v":1.4694},{"t":631.5,"v":1.4706},{"t":638,"v":1.4710},{"t":644.8,"v":1.4712},{"t":645.3,"v":1.4737},{"t":647,"v":1.4733},{"t":652,"v":1.4731},{"t":657.5,"v":1.4729},{"t":659.6,"v":1.4777},
      {"t":660.6,"v":1.4686},{"t":661.5,"v":1.4698},{"t":668,"v":1.4702},{"t":674.8,"v":1.4704},{"t":675.3,"v":1.4724},{"t":677,"v":1.4720},{"t":682,"v":1.4718},{"t":687.5,"v":1.4716},{"t":689.6,"v":1.4765},
      {"t":690.6,"v":1.4686},{"t":691.5,"v":1.4698},{"t":698,"v":1.4702},{"t":704.8,"v":1.4704},{"t":705.3,"v":1.4720},{"t":707,"v":1.4716},{"t":712,"v":1.4714},{"t":717.5,"v":1.4712},{"t":719.6,"v":1.4772},
      {"t":720.6,"v":1.4679},{"t":721.5,"v":1.4691},{"t":728,"v":1.4695},{"t":734.8,"v":1.4697},{"t":735.3,"v":1.4712},{"t":737,"v":1.4708},{"t":742,"v":1.4706},{"t":747.5,"v":1.4704},{"t":749.6,"v":1.4749},
      {"t":750.6,"v":1.4676},{"t":751.5,"v":1.4688},{"t":758,"v":1.4692},{"t":764.8,"v":1.4694},{"t":765.3,"v":1.4710},{"t":767,"v":1.4706},{"t":772,"v":1.4704},{"t":777.5,"v":1.4702},{"t":779.6,"v":1.4752},
      {"t":780.6,"v":1.4674},{"t":781.5,"v":1.4686},{"t":788,"v":1.4690},{"t":794.8,"v":1.4692},{"t":795.3,"v":1.4710},{"t":797,"v":1.4706},{"t":802,"v":1.4704},{"t":807.5,"v":1.4702},{"t":809.6,"v":1.4748},
      {"t":810.6,"v":1.4674},{"t":811.5,"v":1.4686},{"t":818,"v":1.4690},{"t":824.8,"v":1.4692},{"t":825.3,"v":1.4707},{"t":827,"v":1.4703},{"t":832,"v":1.4701},{"t":837.5,"v":1.4699},{"t":839.6,"v":1.4751},
      {"t":840.6,"v":1.4677},{"t":841.5,"v":1.4689},{"t":848,"v":1.4693},{"t":854.8,"v":1.4695},{"t":855.3,"v":1.4710},{"t":857,"v":1.4706},{"t":862,"v":1.4704},{"t":867.5,"v":1.4702},{"t":869.6,"v":1.4750},
      {"t":870.6,"v":1.4676},{"t":871.5,"v":1.4688},{"t":878,"v":1.4692},{"t":884.8,"v":1.4694},{"t":885.3,"v":1.4712},{"t":887,"v":1.4708},{"t":892,"v":1.4706},{"t":897.5,"v":1.4704},{"t":899.6,"v":1.4756},
      {"t":900.6,"v":1.4677},{"t":901.5,"v":1.4689},{"t":908,"v":1.4693},{"t":914.8,"v":1.4695},{"t":915.3,"v":1.4715},{"t":917,"v":1.4711},{"t":922,"v":1.4709},{"t":927.5,"v":1.4707},{"t":929.6,"v":1.4761},
      {"t":930.6,"v":1.4679},{"t":931.5,"v":1.4691},{"t":938,"v":1.4695},{"t":944.8,"v":1.4697},{"t":945.3,"v":1.4724},{"t":947,"v":1.4720},{"t":952,"v":1.4718},{"t":957.5,"v":1.4716},{"t":959.6,"v":1.4765},
      {"t":960.6,"v":1.4686},{"t":961.5,"v":1.4698},{"t":968,"v":1.4702},{"t":974.8,"v":1.4704},{"t":975.3,"v":1.4734},{"t":977,"v":1.4730},{"t":982,"v":1.4728},{"t":987.5,"v":1.4726},{"t":989.6,"v":1.4774},
      {"t":990.6,"v":1.4686},{"t":991.5,"v":1.4698},{"t":998,"v":1.4702},{"t":1004.8,"v":1.4704},{"t":1005.3,"v":1.4741},{"t":1007,"v":1.4737},{"t":1012,"v":1.4735},{"t":1017.5,"v":1.4733},{"t":1019.6,"v":1.4782},
      {"t":1020.6,"v":1.4694},{"t":1021.5,"v":1.4706},{"t":1028,"v":1.4710},{"t":1034.8,"v":1.4712},{"t":1035.3,"v":1.4751},{"t":1037,"v":1.4747},{"t":1042,"v":1.4745},{"t":1047.5,"v":1.4743},{"t":1049.6,"v":1.4790},
      {"t":1050.6,"v":1.4699},{"t":1051.5,"v":1.4711},{"t":1058,"v":1.4715},{"t":1064.8,"v":1.4717},{"t":1065.3,"v":1.4756},{"t":1067,"v":1.4752},{"t":1072,"v":1.4750},{"t":1077.5,"v":1.4748},{"t":1079.6,"v":1.4788},
      {"t":1080.6,"v":1.4701},{"t":1081.5,"v":1.4713},{"t":1088,"v":1.4717},{"t":1094.8,"v":1.4719},{"t":1095.3,"v":1.4763},{"t":1097,"v":1.4759},{"t":1102,"v":1.4757},{"t":1107.5,"v":1.4755},{"t":1109.6,"v":1.4798},
      {"t":1110.6,"v":1.4703},{"t":1111.5,"v":1.4715},{"t":1118,"v":1.4719},{"t":1124.8,"v":1.4721},{"t":1125.3,"v":1.4771},{"t":1127,"v":1.4767},{"t":1132,"v":1.4765},{"t":1137.5,"v":1.4763},{"t":1139.6,"v":1.4800},
      {"t":1140.6,"v":1.4713},{"t":1141.5,"v":1.4725},{"t":1148,"v":1.4729},{"t":1154.8,"v":1.4731},{"t":1155.3,"v":1.4776},{"t":1157,"v":1.4772},{"t":1162,"v":1.4770},{"t":1167.5,"v":1.4768},{"t":1169.6,"v":1.4808},
      {"t":1170.6,"v":1.4718},{"t":1171.5,"v":1.4730},{"t":1178,"v":1.4734},{"t":1184.8,"v":1.4736},{"t":1185.3,"v":1.4780},{"t":1187,"v":1.4776},{"t":1192,"v":1.4774},{"t":1197.5,"v":1.4772},{"t":1199.6,"v":1.4810},
      {"t":1200.6,"v":1.4723},{"t":1201.5,"v":1.4735},{"t":1208,"v":1.4739},{"t":1214.8,"v":1.4741},{"t":1215.3,"v":1.4785},{"t":1217,"v":1.4781},{"t":1222,"v":1.4779},{"t":1227.5,"v":1.4777},{"t":1229.6,"v":1.4812},
      {"t":1230.6,"v":1.4728},{"t":1231.5,"v":1.4740},{"t":1238,"v":1.4744},{"t":1244.8,"v":1.4746},{"t":1245.3,"v":1.4789},{"t":1247,"v":1.4785},{"t":1252,"v":1.4783},{"t":1257.5,"v":1.4781},{"t":1259.6,"v":1.4818},
      {"t":1260.6,"v":1.4730},{"t":1261.5,"v":1.4742},{"t":1268,"v":1.4746},{"t":1274.8,"v":1.4748},{"t":1275.3,"v":1.4791},{"t":1277,"v":1.4787},{"t":1282,"v":1.4785},{"t":1287.5,"v":1.4783},{"t":1289.6,"v":1.4816},
      {"t":1290.6,"v":1.4731},{"t":1291.5,"v":1.4743},{"t":1298,"v":1.4747},{"t":1304.8,"v":1.4749},{"t":1305.3,"v":1.4795},{"t":1307,"v":1.4791},{"t":1312,"v":1.4789},{"t":1317.5,"v":1.4787},{"t":1319.6,"v":1.4821},
      {"t":1320.6,"v":1.4733},{"t":1321.5,"v":1.4745},{"t":1328,"v":1.4749},{"t":1334.8,"v":1.4751},{"t":1335.3,"v":1.4793},{"t":1337,"v":1.4789},{"t":1342,"v":1.4787},{"t":1347.5,"v":1.4785},{"t":1349.6,"v":1.4820},
      {"t":1350.6,"v":1.4733},{"t":1351.5,"v":1.4745},{"t":1358,"v":1.4749},{"t":1364.8,"v":1.4751},{"t":1365.3,"v":1.4794},{"t":1367,"v":1.4790},{"t":1372,"v":1.4788},{"t":1377.5,"v":1.4786},{"t":1379.6,"v":1.4820},
      {"t":1380.6,"v":1.4738},{"t":1381.5,"v":1.4750},{"t":1388,"v":1.4754},{"t":1394.8,"v":1.4756},{"t":1395.3,"v":1.4797},{"t":1397,"v":1.4793},{"t":1402,"v":1.4791},{"t":1407.5,"v":1.4789},{"t":1409.6,"v":1.4825},
      {"t":1410.6,"v":1.4745},{"t":1411.5,"v":1.4757},{"t":1418,"v":1.4761},{"t":1424.8,"v":1.4763},{"t":1425.3,"v":1.4802},{"t":1427,"v":1.4798},{"t":1432,"v":1.4796},{"t":1438.5,"v":1.4794},{"t":1440,"v":1.4828}
    ],
    "sp": [
      {"t":9.3,"b":1.4733,"p":1.4863},{"t":14.8,"b":1.4734,"p":1.4851},{"t":19.9,"b":1.4775,"p":1.4843},{"t":25.4,"b":1.4774,"p":1.4952},{"t":26.6,"b":1.4773,"p":1.4850},
      {"t":42.4,"b":1.4735,"p":1.4872},{"t":44.9,"b":1.4736,"p":1.4847},{"t":50.7,"b":1.4773,"p":1.4842},{"t":74.8,"b":1.4738,"p":1.4841},{"t":76.1,"b":1.4776,"p":1.4970},
      {"t":92.7,"b":1.4736,"p":1.4869},{"t":104.3,"b":1.4741,"p":1.4846},{"t":109.4,"b":1.4778,"p":1.4960},{"t":111.4,"b":1.4777,"p":1.4843},{"t":126.1,"b":1.4741,"p":1.4881},
      {"t":135.4,"b":1.4782,"p":1.4851},{"t":142.5,"b":1.4777,"p":1.4966},{"t":145.7,"b":1.4776,"p":1.4841},{"t":159.5,"b":1.4746,"p":1.4877},{"t":164.6,"b":1.4748,"p":1.4854},
      {"t":176.2,"b":1.4773,"p":1.4974},{"t":192.9,"b":1.4740,"p":1.4886},{"t":194.1,"b":1.4741,"p":1.4851},{"t":198.3,"b":1.4779,"p":1.4846},{"t":209.2,"b":1.4800,"p":1.4945},
      {"t":225.3,"b":1.4785,"p":1.4850},{"t":226.9,"b":1.4781,"p":1.4981},{"t":231.0,"b":1.4749,"p":1.4846},{"t":242.9,"b":1.4752,"p":1.4885},{"t":254.5,"b":1.4755,"p":1.4854},
      {"t":256.1,"b":1.4786,"p":1.4854},{"t":259.6,"b":1.4783,"p":1.4962},{"t":276.3,"b":1.4760,"p":1.4888},{"t":293.0,"b":1.4784,"p":1.4979},{"t":309.7,"b":1.4758,"p":1.4890},
      {"t":315.1,"b":1.4760,"p":1.4863},{"t":326.7,"b":1.4783,"p":1.4975},{"t":343.4,"b":1.4757,"p":1.4879},{"t":344.6,"b":1.4758,"p":1.4860},{"t":374.5,"b":1.4763,"p":1.4855},
      {"t":378.3,"b":1.4788,"p":1.4991},{"t":395.4,"b":1.4764,"p":1.4893},{"t":404.3,"b":1.4768,"p":1.4856},{"t":411.7,"b":1.4787,"p":1.4980},{"t":428.4,"b":1.4763,"p":1.4885},
      {"t":434.5,"b":1.4765,"p":1.4852},{"t":445.1,"b":1.4786,"p":1.4986},{"t":461.8,"b":1.4756,"p":1.4885},{"t":464.3,"b":1.4758,"p":1.4867},{"t":469.1,"b":1.4785,"p":1.4855},
      {"t":494.8,"b":1.4755,"p":1.4861},{"t":495.7,"b":1.4792,"p":1.4988},{"t":512.7,"b":1.4741,"p":1.4875},{"t":525.2,"b":1.4746,"p":1.4855},{"t":529.4,"b":1.4783,"p":1.4980},
      {"t":546.7,"b":1.4733,"p":1.4868},{"t":555.1,"b":1.4736,"p":1.4851},{"t":562.8,"b":1.4770,"p":1.4982},{"t":579.2,"b":1.4723,"p":1.4852},{"t":584.6,"b":1.4724,"p":1.4836},
      {"t":596.5,"b":1.4752,"p":1.4971},{"t":613.5,"b":1.4716,"p":1.4835},{"t":615.1,"b":1.4717,"p":1.4833},{"t":619.0,"b":1.4744,"p":1.4824},{"t":620.6,"b":1.4744,"p":1.4823},
      {"t":629.0,"b":1.4770,"p":1.4910},{"t":645.6,"b":1.4737,"p":1.4817},{"t":646.5,"b":1.4734,"p":1.4937},{"t":653.9,"b":1.4731,"p":1.4817},{"t":663.6,"b":1.4700,"p":1.4864},
      {"t":674.8,"b":1.4704,"p":1.4810},{"t":679.9,"b":1.4718,"p":1.4926},{"t":696.3,"b":1.4702,"p":1.4825},{"t":705.0,"b":1.4704,"p":1.4806},{"t":713.6,"b":1.4714,"p":1.4942},
      {"t":730.6,"b":1.4696,"p":1.4830},{"t":735.4,"b":1.4712,"p":1.4800},{"t":747.0,"b":1.4704,"p":1.4918},{"t":763.7,"b":1.4694,"p":1.4845},{"t":765.0,"b":1.4694,"p":1.4804},
      {"t":795.1,"b":1.4710,"p":1.4785},{"t":799.0,"b":1.4705,"p":1.4906},{"t":815.7,"b":1.4689,"p":1.4835},{"t":825.3,"b":1.4707,"p":1.4787},{"t":827.9,"b":1.4703,"p":1.4788},
      {"t":832.1,"b":1.4701,"p":1.4937},{"t":848.4,"b":1.4693,"p":1.4835},{"t":854.2,"b":1.4695,"p":1.4791},{"t":865.4,"b":1.4704,"p":1.4926},{"t":882.4,"b":1.4693,"p":1.4827},
      {"t":884.7,"b":1.4694,"p":1.4791},{"t":893.6,"b":1.4706,"p":1.4788},{"t":914.5,"b":1.4695,"p":1.4794},{"t":915.8,"b":1.4714,"p":1.4929},{"t":923.2,"b":1.4709,"p":1.4812},
      {"t":944.1,"b":1.4697,"p":1.4801},{"t":949.5,"b":1.4719,"p":1.4941},{"t":965.5,"b":1.4701,"p":1.4846},{"t":975.1,"b":1.4734,"p":1.4807},{"t":983.1,"b":1.4728,"p":1.4938},
      {"t":999.8,"b":1.4702,"p":1.4861},{"t":1004.9,"b":1.4704,"p":1.4816},{"t":1016.2,"b":1.4734,"p":1.4952},{"t":1033.2,"b":1.4711,"p":1.4835},{"t":1036.1,"b":1.4747,"p":1.4830},
      {"t":1049.5,"b":1.4780,"p":1.4913},{"t":1064.9,"b":1.4717,"p":1.4823},{"t":1066.5,"b":1.4752,"p":1.4963},{"t":1083.2,"b":1.4716,"p":1.4838},{"t":1094.5,"b":1.4719,"p":1.4829},
      {"t":1100.2,"b":1.4757,"p":1.4949},{"t":1116.3,"b":1.4717,"p":1.4849},{"t":1124.6,"b":1.4721,"p":1.4834},{"t":1128.5,"b":1.4766,"p":1.4827},{"t":1133.3,"b":1.4765,"p":1.4960},
      {"t":1150.0,"b":1.4730,"p":1.4851},{"t":1155.1,"b":1.4731,"p":1.4839},{"t":1166.7,"b":1.4769,"p":1.4985},{"t":1183.3,"b":1.4735,"p":1.4865},{"t":1184.6,"b":1.4736,"p":1.4845},
      {"t":1213.5,"b":1.4740,"p":1.4850},{"t":1218.6,"b":1.4780,"p":1.4980},{"t":1236.0,"b":1.4744,"p":1.4872},{"t":1244.6,"b":1.4746,"p":1.4854},{"t":1252.0,"b":1.4783,"p":1.4969},
      {"t":1268.4,"b":1.4747,"p":1.4887},{"t":1274.5,"b":1.4748,"p":1.4855},{"t":1285.4,"b":1.4784,"p":1.4980},{"t":1302.1,"b":1.4747,"p":1.4887},{"t":1304.6,"b":1.4749,"p":1.4862},
      {"t":1335.8,"b":1.4793,"p":1.4997},{"t":1336.7,"b":1.4790,"p":1.4864},{"t":1339.3,"b":1.4788,"p":1.4854},{"t":1344.4,"b":1.4786,"p":1.4847},{"t":1352.5,"b":1.4746,"p":1.4862},
      {"t":1364.0,"b":1.4751,"p":1.4857},{"t":1369.5,"b":1.4789,"p":1.4974},{"t":1384.9,"b":1.4753,"p":1.4886},{"t":1394.5,"b":1.4756,"p":1.4855},{"t":1402.5,"b":1.4791,"p":1.4988},
      {"t":1404.8,"b":1.4790,"p":1.4857},{"t":1406.7,"b":1.4790,"p":1.4864},{"t":1419.2,"b":1.4761,"p":1.4890},{"t":1425.0,"b":1.4763,"p":1.4864},{"t":1436.2,"b":1.4795,"p":1.4997}
    ]
  },
  "vconcat": [
    {
      "width": 2745, "height": 464,
      "data": {"name": "tx"},
      "mark": {"type": "line", "color": "#d62728", "strokeWidth": 2.5},
      "encoding": {
        "x": {"field": "t", "type": "quantitative", "scale": {"domain": [0, 1440], "nice": false, "zero": false},
          "axis": {"title": null, "labels": false, "values": [0,15,30,45,60,75,90,105,120,135,150,165,180,195,210,225,240,255,270,285,300,315,330,345,360,375,390,405,420,435,450,465,480,495,510,525,540,555,570,585,600,615,630,645,660,675,690,705,720,735,750,765,780,795,810,825,840,855,870,885,900,915,930,945,960,975,990,1005,1020,1035,1050,1065,1080,1095,1110,1125,1140,1155,1170,1185,1200,1215,1230,1245,1260,1275,1290,1305,1320,1335,1350,1365,1380,1395,1410,1425,1440],
            "gridOpacity": {"condition": {"test": "datum.value % 60 === 0", "value": 1}, "value": 0},
            "tickSize": {"condition": {"test": "datum.value % 60 === 0", "value": 18}, "value": 11},
            "tickWidth": {"condition": {"test": "datum.value % 60 === 0", "value": 3.5}, "value": 2.5}}},
        "y": {"field": "v", "type": "quantitative", "scale": {"domain": [39.0, 39.1604], "nice": false, "zero": false},
          "axis": {"title": "Transmitter Temp [°C]", "values": [39.0, 39.05, 39.1, 39.15], "format": ".2f"}}
      }
    },
    {
      "width": 2745, "height": 464,
      "data": {"name": "rx"},
      "mark": {"type": "line", "color": "#ff7f0e", "strokeWidth": 2.5},
      "encoding": {
        "x": {"field": "t", "type": "quantitative", "scale": {"domain": [0, 1440], "nice": false, "zero": false},
          "axis": {"title": null, "labels": false, "values": [0,15,30,45,60,75,90,105,120,135,150,165,180,195,210,225,240,255,270,285,300,315,330,345,360,375,390,405,420,435,450,465,480,495,510,525,540,555,570,585,600,615,630,645,660,675,690,705,720,735,750,765,780,795,810,825,840,855,870,885,900,915,930,945,960,975,990,1005,1020,1035,1050,1065,1080,1095,1110,1125,1140,1155,1170,1185,1200,1215,1230,1245,1260,1275,1290,1305,1320,1335,1350,1365,1380,1395,1410,1425,1440],
            "gridOpacity": {"condition": {"test": "datum.value % 60 === 0", "value": 1}, "value": 0},
            "tickSize": {"condition": {"test": "datum.value % 60 === 0", "value": 18}, "value": 11},
            "tickWidth": {"condition": {"test": "datum.value % 60 === 0", "value": 3.5}, "value": 2.5}}},
        "y": {"field": "v", "type": "quantitative", "scale": {"domain": [36.752, 37.447], "nice": false, "zero": false},
          "axis": {"title": "Receiver Temp [°C]", "values": [36.8, 37.0, 37.2, 37.4], "format": ".1f"}}
      }
    },
    {
      "width": 2745, "height": 464,
      "data": {"name": "pc"},
      "mark": {"type": "line", "color": "#1f77b4", "strokeWidth": 2.5},
      "encoding": {
        "x": {"field": "t", "type": "quantitative", "scale": {"domain": [0, 1440], "nice": false, "zero": false},
          "axis": {"title": null, "labels": false, "values": [0,15,30,45,60,75,90,105,120,135,150,165,180,195,210,225,240,255,270,285,300,315,330,345,360,375,390,405,420,435,450,465,480,495,510,525,540,555,570,585,600,615,630,645,660,675,690,705,720,735,750,765,780,795,810,825,840,855,870,885,900,915,930,945,960,975,990,1005,1020,1035,1050,1065,1080,1095,1110,1125,1140,1155,1170,1185,1200,1215,1230,1245,1260,1275,1290,1305,1320,1335,1350,1365,1380,1395,1410,1425,1440],
            "gridOpacity": {"condition": {"test": "datum.value % 60 === 0", "value": 1}, "value": 0},
            "tickSize": {"condition": {"test": "datum.value % 60 === 0", "value": 18}, "value": 11},
            "tickWidth": {"condition": {"test": "datum.value % 60 === 0", "value": 3.5}, "value": 2.5}}},
        "y": {"field": "v", "type": "quantitative", "scale": {"domain": [26.67, 33.26], "nice": false, "zero": false},
          "axis": {"title": "PC Temp [°C]", "values": [28, 30, 32], "format": "d"}}
      }
    },
    {
      "width": 2745, "height": 464,
      "layer": [
        {
          "data": {"name": "pw"},
          "mark": {"type": "line", "color": "#d62728", "strokeWidth": 2.5},
          "encoding": {
            "x": {"field": "t", "type": "quantitative", "scale": {"domain": [0, 1440], "nice": false, "zero": false},
              "axis": {"title": "Time [UTC]", "titlePadding": 2, "labelPadding": 14, "labelFlush": false, "labelOverlap": false,
                "labelExpr": "datum.value % 60 === 0 ? (((datum.value / 60) % 24) < 10 ? '0' : '') + ((datum.value / 60) % 24) : ''",
                "values": [0,15,30,45,60,75,90,105,120,135,150,165,180,195,210,225,240,255,270,285,300,315,330,345,360,375,390,405,420,435,450,465,480,495,510,525,540,555,570,585,600,615,630,645,660,675,690,705,720,735,750,765,780,795,810,825,840,855,870,885,900,915,930,945,960,975,990,1005,1020,1035,1050,1065,1080,1095,1110,1125,1140,1155,1170,1185,1200,1215,1230,1245,1260,1275,1290,1305,1320,1335,1350,1365,1380,1395,1410,1425,1440],
                "gridOpacity": {"condition": {"test": "datum.value % 60 === 0", "value": 1}, "value": 0},
                "tickSize": {"condition": {"test": "datum.value % 60 === 0", "value": 18}, "value": 11},
                "tickWidth": {"condition": {"test": "datum.value % 60 === 0", "value": 3.5}, "value": 2.5}}},
            "y": {"field": "v", "type": "quantitative", "scale": {"domain": [1.4658, 1.5013], "nice": false, "zero": false},
              "axis": {"title": "Transmit Power [rel.]", "values": [1.47, 1.48, 1.49, 1.50], "format": ".2f"}}
          }
        },
        {
          "data": {"name": "sp"},
          "mark": {"type": "rule", "color": "#d62728", "strokeWidth": 2.5},
          "encoding": {
            "x": {"field": "t", "type": "quantitative"},
            "y": {"field": "b", "type": "quantitative"},
            "y2": {"field": "p"}
          }
        }
      ]
    }
  ]
}
